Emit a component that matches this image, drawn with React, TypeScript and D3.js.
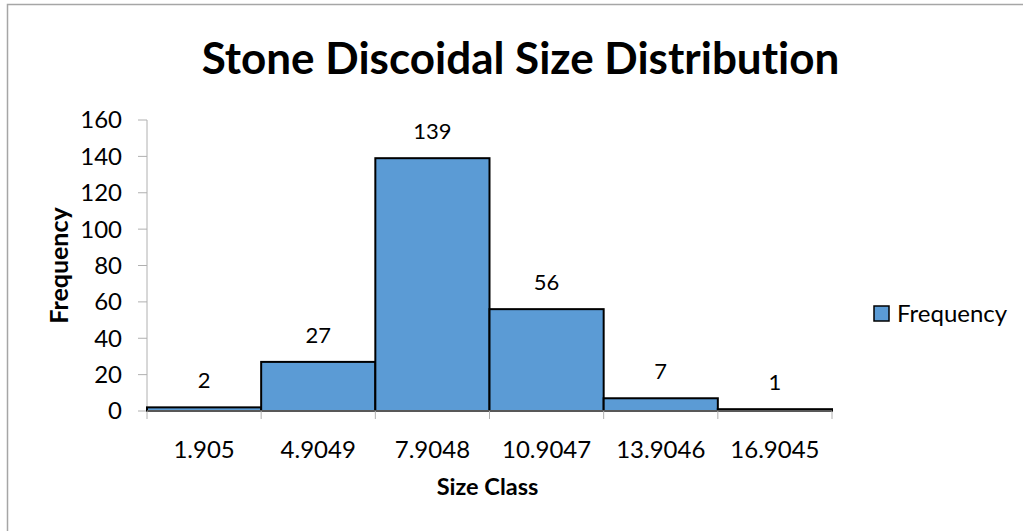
import React, { useEffect, useRef } from "react";
import * as d3 from "d3";

const categories = ["1.905", "4.9049", "7.9048", "10.9047", "13.9046", "16.9045"];
const frequency = [2, 27, 139, 56, 7, 1];
const yTicks = [0, 20, 40, 60, 80, 100, 120, 140, 160];

const W = 1023;
const H = 531;
const FONT = "Lato, 'Open Sans', sans-serif";
const AXIS = "#b0b0b0";

export default function App() {
  const ref = useRef<SVGSVGElement | null>(null);

  useEffect(() => {
    const svg = d3.select(ref.current);
    svg.selectAll("*").remove();
    svg.style("font-variant-ligatures", "none");

    const left = 147, right = 832, top = 120, bottom = 411;

    const x = d3.scaleBand<string>().domain(categories).range([left, right]).padding(0);
    const y = d3.scaleLinear().domain([0, 160]).range([bottom, top]);

    // chart frame (runs past the right and bottom edges)
    svg.append("rect")
      .attr("x", 7.5).attr("y", 4.5).attr("width", W + 20).attr("height", H + 20)
      .attr("fill", "#fff").attr("stroke", "#a6a6a6").attr("stroke-width", 1.5);

    // title
    svg.append("text")
      .attr("x", 520.5).attr("y", 74)
      .attr("text-anchor", "middle")
      .attr("font-family", FONT).attr("font-weight", "bold").attr("font-size", 44)
      .text("Stone Discoidal Size Distribution");

    // y axis
    const yAxis = svg.append("g");
    yAxis.append("line")
      .attr("x1", left).attr("x2", left).attr("y1", y(160)).attr("y2", y(0))
      .attr("stroke", AXIS);
    yTicks.forEach((t) => {
      yAxis.append("line")
        .attr("x1", left - 9).attr("x2", left).attr("y1", y(t)).attr("y2", y(t))
        .attr("stroke", AXIS);
      yAxis.append("text")
        .attr("x", 122).attr("y", y(t)).attr("dy", "0.35em")
        .attr("text-anchor", "end")
        .attr("font-family", FONT).attr("font-size", 24)
        .text(String(t));
    });

    // y title
    svg.append("text")
      .attr("transform", `translate(68,${(top + bottom) / 2}) rotate(-90)`)
      .attr("text-anchor", "middle")
      .attr("font-family", FONT).attr("font-weight", "bold").attr("font-size", 25)
      .text("Frequency");

    // bars
    svg.append("g").selectAll("rect")
      .data(frequency)
      .join("rect")
      .attr("x", (_, i) => x(categories[i])!)
      .attr("y", (d) => y(d))
      .attr("width", x.bandwidth())
      .attr("height", (d) => y(0) - y(d))
      .attr("fill", "#5b9bd5")
      .attr("stroke", "#000")
      .attr("stroke-width", 2);

    // x axis
    const xAxis = svg.append("g");
    xAxis.append("line")
      .attr("x1", left).attr("x2", right).attr("y1", bottom).attr("y2", bottom)
      .attr("stroke", AXIS);
    const edges = categories.map((c) => x(c)!).concat([right]);
    edges.forEach((e) => {
      xAxis.append("line")
        .attr("x1", e).attr("x2", e).attr("y1", bottom).attr("y2", bottom + 8)
        .attr("stroke", AXIS);
    });
    categories.forEach((c) => {
      xAxis.append("text")
        .attr("x", x(c)! + x.bandwidth() / 2).attr("y", 457.5)
        .attr("text-anchor", "middle")
        .attr("font-family", FONT).attr("font-size", 24)
        .text(c);
    });

    // x title
    svg.append("text")
      .attr("x", 487.5).attr("y", 495)
      .attr("text-anchor", "middle")
      .attr("font-family", FONT).attr("font-weight", "bold").attr("font-size", 23.5)
      .text("Size Class");

    // data labels
    svg.append("g").selectAll("text")
      .data(frequency)
      .join("text")
      .attr("x", (_, i) => x(categories[i])! + x.bandwidth() / 2)
      .attr("y", (d) => y(d) - 19)
      .attr("text-anchor", "middle")
      .attr("font-family", FONT).attr("font-size", 22)
      .text((d) => String(d));

    // legend
    svg.append("rect")
      .attr("x", 874).attr("y", 306).attr("width", 15).attr("height", 15)
      .attr("fill", "#5b9bd5").attr("stroke", "#000").attr("stroke-width", 1.5);
    svg.append("text")
      .attr("x", 897).attr("y", 321.5)
      .attr("font-family", FONT).attr("font-size", 24)
      .text("Frequency");
  }, []);

  return (
    <svg
      ref={ref}
      width={W}
      height={H}
      style={{ position: "absolute", left: 0, top: 0, background: "#fff" }}
    />
  );
}
